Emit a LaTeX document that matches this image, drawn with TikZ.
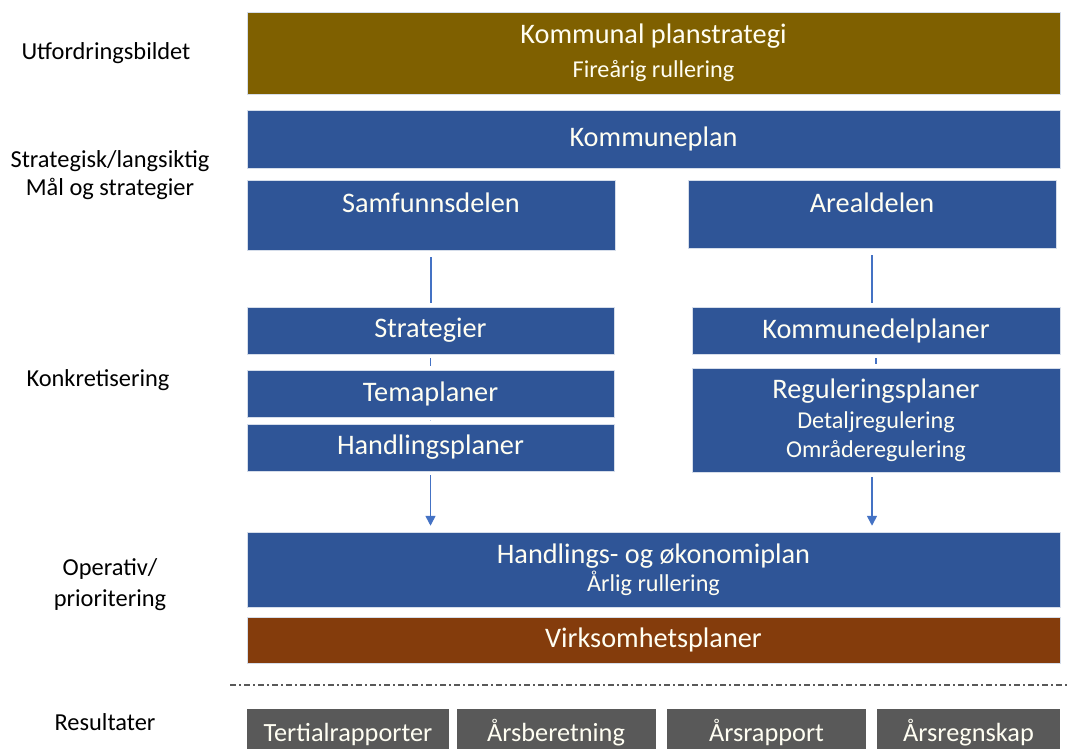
\documentclass[tikz,border=0pt]{standalone}
\usepackage{fontspec}
\setmainfont{Carlito}
\usetikzlibrary{arrows.meta}
\usetikzlibrary{positioning}

\definecolor{planolive}{HTML}{7F6000}
\definecolor{planblue}{HTML}{2F5597}
\definecolor{planbrown}{HTML}{843C0C}
\definecolor{plangray}{HTML}{595959}
\definecolor{planline}{HTML}{4472C4}

\newcommand{\subline}[1]{{\fontsize{24.2}{29}\selectfont #1}}

\begin{document}
\begin{tikzpicture}[x=1pt, y=-1pt]
\tikzset{
   >={Triangle[length=10pt, width=10pt]},
   box/.style = {rectangle, fill = planblue, draw = white!80!planblue, line width = 0.5pt, text = white!95!yellow, align = center, inner sep = 0pt, font = \fontsize{28.3}{34}\selectfont},
   wide_box/.style = {box, minimum width = 813},
   half_box/.style = {box, minimum width = 368},
   small_box/.style = {half_box, minimum height = 47},
   top_box/.style = {half_box, text height = 32, text depth = 38},
   result/.style = {box, fill = plangray, draw = none, text height = 32, text depth = 8, font = \fontsize{26.3}{30}\selectfont},
   level/.style = {align = center, font = \fontsize{24.4}{28}\selectfont},
   link/.style = {draw = planline, line width = 1.6pt}
}
\useasboundingbox (0,0) rectangle (1067,749);

  % levels on the left
  \node[level] (lvl_challenge) at (106,53) {Utfordringsbildet};
  \node[level] (lvl_strategic) at (110,175) {Strategisk/langsiktig\\Mål og strategier};
  \node[level] (lvl_concrete) at (98,380) {Konkretisering};
  \node[level] (lvl_operative) at (110,585) {Operativ/\\[3pt]prioritering};
  \node[level] (lvl_results) at (105,722) {Resultater};

  % plan boxes
  \node[wide_box, fill = planolive, minimum height = 82] (strategy) at (653.5,53)
        {Kommunal planstrategi\\\subline{Fireårig rullering}};
  \node[wide_box, minimum height = 58] (kplan) at (653.5,139) {Kommuneplan};

  \node[top_box] (samf) at (431,215) {Samfunnsdelen};
  \node[top_box, text depth = 36] (areal) at (872,214) {Arealdelen};

  \node[small_box, minimum width = 367] (strat) at (430.5,330.5) {Strategier};
  \node[small_box, minimum width = 367] (tema) at (430.5,393.5) {Temaplaner};
  \node[small_box, minimum width = 367] (hpl) at (430.5,447.5) {Handlingsplaner};

  \node[small_box] (kdp) at (876,330.5) {Kommunedelplaner};
  \node[half_box, minimum height = 104] (reg) at (876,420.5)
        {Reguleringsplaner\\[-4.5pt]\subline{Detaljregulering}\\[-4.5pt]\subline{Områderegulering}};

  \node[wide_box, minimum height = 75] (hok) at (653.5,569.5)
        {Handlings- og økonomiplan\\[-6.5pt]\subline{Årlig rullering}};
  \node[wide_box, fill = planbrown, minimum height = 46] (virk) at (653.5,640) {Virksomhetsplaner};

  % results
  \node[result, minimum width = 202] (tert) at (348,729) {Tertialrapporter};
  \node[result, minimum width = 199] (arsb) at (556,729) {Årsberetning};
  \node[result, minimum width = 199] (arsr) at (766.5,729) {Årsrapport};
  \node[result, minimum width = 183] (arsk) at (968.5,729) {Årsregnskap};

  % connectors
  \draw[link, shorten <= 7pt, shorten >= 4pt] (samf.south) -- (samf.south |- strat.north);
  \draw[link, shorten <= 7pt, shorten >= 4pt] (areal.south) -- (areal.south |- kdp.north);
  \draw[link, shorten <= 4pt, shorten >= 4pt] (strat) -- (tema);
  \draw[link, white!60!planline, shorten <= 3pt, shorten >= 3pt] (tema) -- (hpl);
  \draw[link, shorten <= 4pt, shorten >= 4pt] (kdp.south) -- (kdp.south |- reg.north);
  \draw[link, ->, shorten <= 4pt, shorten >= 6pt] (hpl.south) -- (hpl.south |- hok.north);
  \draw[link, ->, shorten <= 4pt, shorten >= 6pt] (areal.south |- reg.south) -- (areal.south |- hok.north);

  % divider
  \coordinate (sep_left) at (230,685);
  \coordinate (sep_right) at (1067,685);
  \draw[plangray, line width = 1.3pt, dash pattern = on 6pt off 3pt on 2pt off 3pt] (sep_left) -- (sep_right);

\end{tikzpicture}
\end{document}
